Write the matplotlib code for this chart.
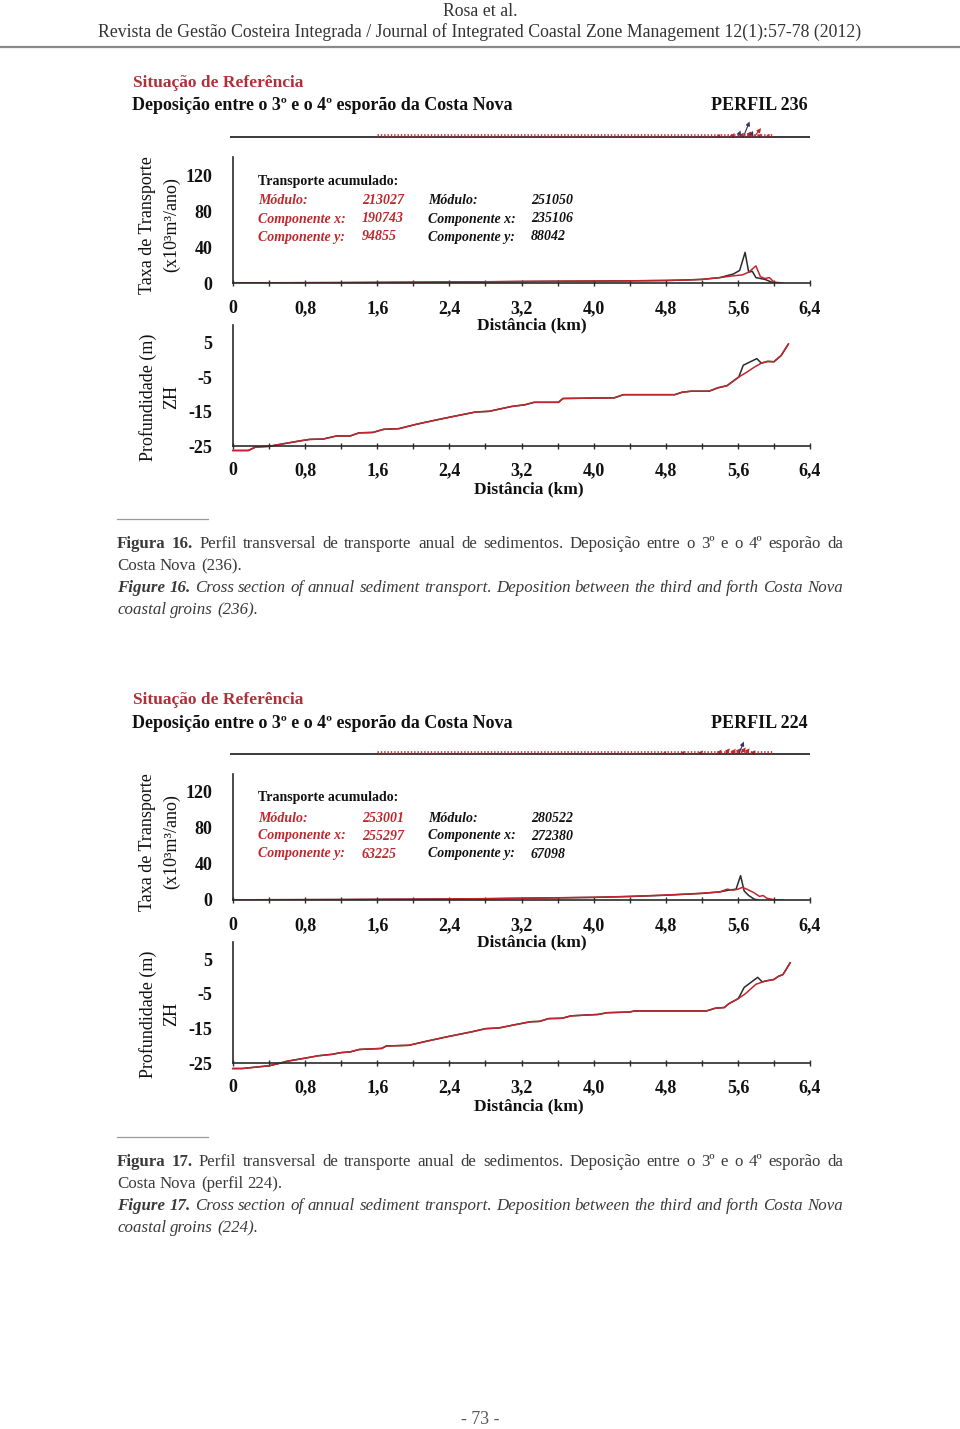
import numpy as np
import matplotlib
matplotlib.use("Agg")
import matplotlib.pyplot as plt
from matplotlib.ticker import MultipleLocator

plt.rcParams['font.family'] = ['Liberation Serif', 'DejaVu Serif']

W, H = 960, 1429
RED = '#c0272d'
DARK = '#2b2b2b'

# ---- dados: perfil 236 (figura 16) ----
t236_red_x = [0, 0.4, 0.8, 1.2, 1.6, 2.0, 2.4, 2.8, 3.2, 3.6, 4.0, 4.4, 4.8, 5.0, 5.2, 5.4,
              5.55, 5.65, 5.72, 5.8, 5.85, 5.9, 5.95, 6.0, 6.1]
t236_red_y = [0.3, 0.3, 0.4, 0.5, 0.7, 0.9, 1.2, 1.4, 1.8, 2.0, 2.2, 2.4, 2.8, 3.2, 4.0, 6.0,
              8.0, 9.0, 12.0, 19.0, 7.0, 5.0, 6.0, 1.0, 0.0]
t236_blk_x = [0, 0.4, 0.8, 1.2, 1.6, 2.0, 2.4, 2.8, 3.2, 3.6, 4.0, 4.4, 4.8, 5.0, 5.2, 5.4,
              5.55, 5.62, 5.68, 5.72, 5.76, 5.8, 5.9, 5.95, 6.0]
t236_blk_y = [0.2, 0.2, 0.3, 0.4, 0.6, 0.8, 1.0, 1.3, 1.6, 1.9, 2.1, 2.4, 2.8, 3.3, 4.0, 6.0,
              10.0, 14.0, 34.0, 12.0, 13.0, 6.0, 4.0, 2.0, 0.0]

p236_x = [0, 0.17, 0.25, 0.4, 0.55, 0.75, 0.85, 1.0, 1.15, 1.3, 1.4, 1.55, 1.67, 1.84, 2.04,
          2.29, 2.44, 2.69, 2.84, 3.09, 3.24, 3.34, 3.61, 3.66, 4.23, 4.33, 4.9, 4.98, 5.08,
          5.28, 5.38, 5.48, 5.61, 5.7, 5.78, 5.86, 5.93, 6.0, 6.08, 6.16]
p236_z = [-26.2, -26.2, -25.2, -25.0, -24.3, -23.4, -23.0, -22.9, -22.0, -22.0, -21.1, -21.0,
          -20.1, -19.9, -18.6, -17.2, -16.4, -15.1, -14.9, -13.5, -13.0, -12.3, -12.3, -11.2,
          -11.0, -10.1, -10.1, -9.4, -9.1, -9.1, -8.1, -7.5, -5.0, -3.6, -2.2, -1.0, -0.5,
          -0.6, 1.2, 4.5]
b236_x = [5.61, 5.66, 5.81, 5.86]
b236_z = [-5.0, -1.6, 0.3, -1.0]
mod236 = {'red': ('213027', '190743', '94855'), 'blk': ('251050', '235106', '88042')}

# ---- dados: perfil 224 (figura 17) ----
t224_red_x = [0, 0.4, 0.8, 1.2, 1.6, 2.0, 2.4, 2.8, 3.2, 3.6, 4.0, 4.4, 4.8, 5.0, 5.2, 5.4,
              5.48, 5.55, 5.6, 5.65, 5.7, 5.78, 5.84, 5.88, 5.92, 6.0, 6.1]
t224_red_y = [0.2, 0.3, 0.4, 0.5, 0.7, 0.9, 1.2, 1.5, 2.0, 2.5, 3.0, 4.0, 5.5, 6.5, 7.5, 9.0,
              12.0, 11.0, 12.0, 14.0, 12.0, 8.0, 4.0, 5.0, 2.0, 0.3, 0.0]
t224_blk_x = [0, 0.4, 0.8, 1.2, 1.6, 2.0, 2.4, 2.8, 3.2, 3.6, 4.0, 4.4, 4.8, 5.0, 5.2, 5.4,
              5.5, 5.58, 5.63, 5.67, 5.72, 5.78, 5.83]
t224_blk_y = [0.2, 0.3, 0.4, 0.5, 0.7, 0.9, 1.1, 1.4, 1.9, 2.4, 2.9, 3.9, 5.3, 6.3, 7.3, 9.0,
              11.0, 12.0, 27.0, 10.0, 5.0, 1.0, 0.0]

p224_x = [0, 0.1, 0.25, 0.4, 0.5, 0.6, 0.8, 0.95, 1.1, 1.2, 1.3, 1.4, 1.65, 1.7, 1.95, 2.15,
          2.4, 2.65, 2.8, 2.95, 3.1, 3.3, 3.4, 3.5, 3.65, 3.75, 4.05, 4.15, 4.4, 4.45, 5.25,
          5.35, 5.45, 5.5, 5.6, 5.68, 5.8, 5.9, 6.0, 6.05, 6.1, 6.18]
p224_z = [-26.5, -26.5, -26.1, -25.7, -25.1, -24.4, -23.5, -22.8, -22.4, -21.9, -21.7, -21.0,
          -20.7, -20.0, -19.8, -18.6, -17.2, -15.9, -15.0, -14.8, -14.0, -13.0, -12.9, -12.1,
          -12.0, -11.3, -10.9, -10.4, -10.2, -9.9, -9.9, -9.1, -8.9, -7.8, -6.4, -5.0, -2.2,
          -1.3, -0.8, 0.1, 0.6, 4.0]
b224_x = [5.62, 5.67, 5.82, 5.87]
b224_z = [-5.6, -3.1, -0.2, -1.5]
mod224 = {'red': ('253001', '255297', '63225'), 'blk': ('280522', '272380', '67098')}

fig = plt.figure(figsize=(W / 100, H / 100), dpi=100)
renderer = fig.canvas.get_renderer()


def fx(x):
    return x / W


def fy(y):
    return 1 - y / H


def txt(x, y, s, **kw):
    return fig.text(fx(x), fy(y), s, **kw)


def rule(x0, x1, y, color='#9a9a9a', lw=1.0):
    fig.add_artist(plt.Line2D([fx(x0), fx(x1)], [fy(y), fy(y)], color=color, lw=lw))


def justify(y, words, x0, x1, size, full=True):
    # words: lista de (texto, weight, style)
    arts, widths = [], []
    for w, wt, st in words:
        a = txt(0, y, w, fontsize=size, weight=wt, style=st, va='center', ha='left',
                color='#3a3a3a')
        widths.append(a.get_window_extent(renderer).width)
        arts.append(a)
    sp = txt(0, y, 'a a', fontsize=size)
    sp2 = txt(0, y, 'aa', fontsize=size)
    space = sp.get_window_extent(renderer).width - sp2.get_window_extent(renderer).width
    sp.remove(); sp2.remove()
    gap = (x1 - x0 - sum(widths)) / (len(words) - 1) if full else space
    gap = max(gap, 0.6 * space)
    x = x0
    for a, wd in zip(arts, widths):
        a.set_x(fx(x))
        x += wd + gap


def split(s, wt='normal', st='normal'):
    return [(w, wt, st) for w in s.split()]


# cabeçalho da página
txt(480, 11, 'Rosa et al.', fontsize=12.8, ha='center', va='center', color='#333333')
txt(480, 32, 'Revista de Gestão Costeira Integrada / Journal of Integrated Coastal Zone '
    'Management 12(1):57-78 (2012)', fontsize=12.8, ha='center', va='center', color='#333333')
rule(0, 960, 47, color='#8a8a8a', lw=1.6)


def panel(dy, perfil, tr, tb, px_, pz_, bx_, bz_, mods):
    fs_tick = 13
    # títulos
    txt(133, 83 + dy, 'Situação de Referência', fontsize=12.5, weight='bold', color='#b0303a',
        va='center')
    txt(132, 106 + dy, 'Deposição entre o 3º e o 4º esporão da Costa Nova', fontsize=13,
        weight='bold', va='center', color='#111111')
    txt(808, 106 + dy, 'PERFIL ' + perfil, fontsize=13, weight='bold', ha='right', va='center',
        color='#111111')

    # vista em planta (linha com vetores de transporte)
    axp = fig.add_axes([fx(230), fy(145 + dy), fx(580), 30 / H])
    axp.set_xlim(-0.03, 6.42)
    axp.set_ylim(-1, 1)
    axp.axis('off')
    axp.plot([-0.03, 6.42], [-0.45, -0.45], color=DARK, lw=1.3)
    rx, ry = np.array(tr[0]), np.array(tr[1])
    m = (rx > 1.4) & (ry > 0)
    axp.plot(rx[m], np.full(m.sum(), -0.3), color=RED, lw=2, ls=(0, (0.5, 0.7)), alpha=0.9)
    big = ry > 5
    axp.quiver(rx[big], np.full(big.sum(), -0.45), ry[big] * 0.004, ry[big] * 0.03,
               color=RED, angles='xy', scale_units='xy', scale=1, width=0.002,
               headwidth=4, headlength=4)
    bxa, bya = np.array(tb[0]), np.array(tb[1])
    bb = bya > 12
    axp.quiver(bxa[bb], np.full(bb.sum(), -0.45), bya[bb] * 0.002, bya[bb] * 0.03,
               color='#333366', angles='xy', scale_units='xy', scale=1, width=0.002,
               headwidth=4, headlength=4)

    # taxa de transporte
    ax1 = fig.add_axes([fx(233), fy(283 + dy), fx(577), 126 / H])
    ax1.plot(tb[0], tb[1], color=DARK, lw=1.1)
    ax1.plot(tr[0], tr[1], color=RED, lw=1.1)
    ax1.set_xlim(0, 6.4)
    ax1.set_ylim(0, 140)
    ax1.set_yticks([0, 40, 80, 120])
    ax1.set_xticks(np.arange(0, 6.41, 0.8))
    ax1.xaxis.set_minor_locator(MultipleLocator(0.4))
    ax1.set_xticklabels(['0', '0,8', '1,6', '2,4', '3,2', '4,0', '4,8', '5,6', '6,4'])
    for s in ['top', 'right']:
        ax1.spines[s].set_visible(False)
    for s in ['left', 'bottom']:
        ax1.spines[s].set_color(DARK)
        ax1.spines[s].set_linewidth(1.2)
    ax1.tick_params(axis='x', which='both', direction='inout', length=5, width=1,
                    colors=DARK, pad=10, labelsize=fs_tick)
    ax1.tick_params(axis='y', direction='in', length=0, pad=15, labelsize=fs_tick)
    for lab in ax1.get_xticklabels() + ax1.get_yticklabels():
        lab.set_fontweight('bold')
        lab.set_color('#111111')
    ax1.patch.set_alpha(0)
    txt(532, 325 + dy, 'Distância (km)', fontsize=12.5, weight='bold', ha='center',
        va='center', color='#111111')
    txt(148, 225 + dy, 'Taxa de Transporte', fontsize=13, rotation=90, ha='center',
        va='center', color='#111111')
    txt(172, 225 + dy, '(x10³m³/ano)', fontsize=13, rotation=90, ha='center', va='center',
        color='#111111')

    # caixa de texto acumulado
    txt(258, 181 + dy, 'Transporte acumulado:', fontsize=10, weight='bold', va='center',
        color='#111111')
    rows = ['Módulo:', 'Componente x:', 'Componente y:']
    for i, r in enumerate(rows):
        yy = 201 + 18 * i + dy
        txt(258, yy, r, fontsize=10, weight='bold', style='italic', color=RED, va='center')
        txt(362, yy, mods['red'][i], fontsize=10, weight='bold', style='italic', color=RED,
            va='center')
        txt(428, yy, r, fontsize=10, weight='bold', style='italic', color='#111111',
            va='center')
        txt(531, yy, mods['blk'][i], fontsize=10, weight='bold', style='italic',
            color='#111111', va='center')

    # profundidade
    ax2 = fig.add_axes([fx(233), fy(455 + dy), fx(577), 130 / H])
    zb_x = np.concatenate([np.array(px_)[np.array(px_) < bx_[0]], bx_,
                           np.array(px_)[np.array(px_) > bx_[-1]]])
    zb_z = np.concatenate([np.array(pz_)[np.array(px_) < bx_[0]], bz_,
                           np.array(pz_)[np.array(px_) > bx_[-1]]])
    ax2.plot(zb_x, zb_z, color=DARK, lw=1.1, clip_on=False)
    ax2.plot(px_, pz_, color=RED, lw=1.1, clip_on=False)
    ax2.set_xlim(0, 6.4)
    ax2.set_ylim(-27.5, 10)
    ax2.spines['bottom'].set_position(('data', -25))
    ax2.set_yticks([5, -5, -15, -25])
    ax2.set_yticklabels(['5', '-5', '-15', '-25'])
    ax2.set_xticks(np.arange(0, 6.41, 0.8))
    ax2.xaxis.set_minor_locator(MultipleLocator(0.4))
    ax2.set_xticklabels(['0', '0,8', '1,6', '2,4', '3,2', '4,0', '4,8', '5,6', '6,4'])
    for s in ['top', 'right']:
        ax2.spines[s].set_visible(False)
    for s in ['left', 'bottom']:
        ax2.spines[s].set_color(DARK)
        ax2.spines[s].set_linewidth(1.2)
    ax2.spines['left'].set_bounds(-25, 10)
    ax2.tick_params(axis='x', which='both', direction='inout', length=5, width=1,
                    colors=DARK, pad=9, labelsize=fs_tick)
    ax2.tick_params(axis='y', direction='in', length=0, pad=15, labelsize=fs_tick)
    for lab in ax2.get_xticklabels() + ax2.get_yticklabels():
        lab.set_fontweight('bold')
        lab.set_color('#111111')
    ax2.patch.set_alpha(0)
    txt(529, 489 + dy, 'Distância (km)', fontsize=12.5, weight='bold', ha='center',
        va='center', color='#111111')
    txt(148, 397 + dy, 'Profundidade (m)', fontsize=13, rotation=90, ha='center',
        va='center', color='#111111')
    txt(172, 397 + dy, 'ZH', fontsize=13, rotation=90, ha='center', va='center',
        color='#111111')


panel(0, '236', (t236_red_x, t236_red_y), (t236_blk_x, t236_blk_y), p236_x, p236_z,
      b236_x, b236_z, mod236)
panel(617, '224', (t224_red_x, t224_red_y), (t224_blk_x, t224_blk_y), p224_x, p224_z,
      b224_x, b224_z, mod224)

# legendas das figuras
for dy, num, ref, ref_pt in [(0, '16', '(236).', '(236).'), (618, '17', '(224).', '(perfil 224).')]:
    rule(117, 208, 519 + dy, color='#9a9a9a', lw=0.9)
    fs = 12.2
    justify(544 + dy, [('Figura', 'bold', 'normal'), (num + '.', 'bold', 'normal')] +
            split('Perfil transversal de transporte anual de sedimentos. Deposição entre o '
                  '3º e o 4º esporão da'), 117, 843, fs)
    justify(566 + dy, split('Costa Nova ' + ref_pt), 117, 843, fs, full=False)
    justify(588 + dy, [('Figure', 'bold', 'italic'), (num + '.', 'bold', 'italic')] +
            split('Cross section of annual sediment transport. Deposition between the third '
                  'and forth Costa Nova', st='italic'), 117, 843, fs)
    justify(610 + dy, split('coastal groins ' + ref, st='italic'), 117, 843, fs, full=False)

txt(480, 1420, '- 73 -', fontsize=12.8, ha='center', va='center', color='#555555')

fig.savefig('out.png', dpi=100, facecolor='white')
